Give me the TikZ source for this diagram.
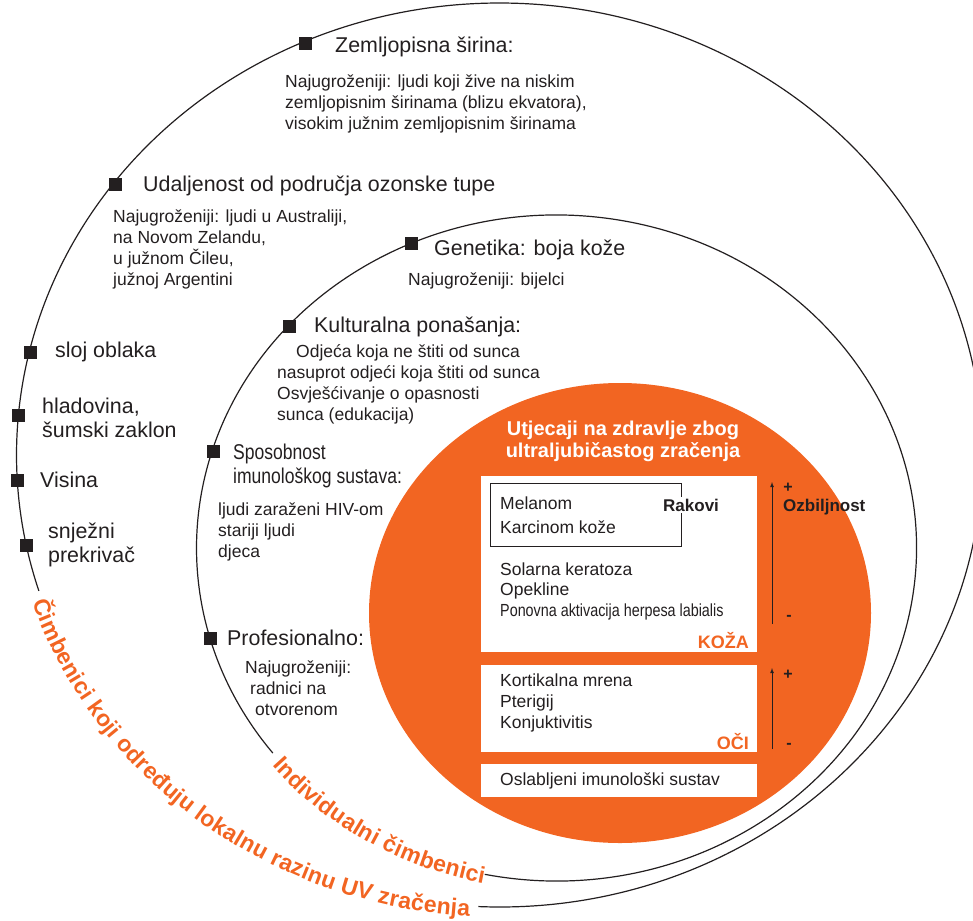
\documentclass[tikz,border=0pt]{standalone}
\usepackage{fontspec}
\setmainfont{Liberation Sans}
\newfontfamily\narrowfont[FakeStretch=0.82]{Liberation Sans}
\usetikzlibrary{ arrows,
                 decorations.text, % For the labels bent along the rings
               }
\definecolor{uvorange}{RGB}{242,101,34}
\definecolor{ink}{RGB}{35,31,32}
\tikzstyle{marker} = [rectangle, fill=ink, minimum size=13pt, inner sep=0pt]
\tikzstyle{heading} = [anchor=west, align=left, inner sep=0pt, text=ink, font=\fontsize{21.4}{24}\selectfont]
\tikzstyle{note} = [anchor=west, align=left, inner sep=0pt, text=ink, font=\fontsize{17.5}{21}\selectfont]
\tikzstyle{panel} = [rectangle, fill=white, anchor=north west, inner sep=0pt]
\tikzstyle{ring} = [draw=ink, line width=1.2pt]
\tikzstyle{severity} = [-latex, draw=ink, line width=0.8pt]
\tikzstyle{sign} = [inner sep=0pt, text=ink, font=\bfseries\fontsize{16}{16}\selectfont]
\tikzstyle{organ} = [anchor=east, inner sep=0pt, text=uvorange, font=\bfseries\fontsize{18}{18}\selectfont]

\begin{document}
\begin{tikzpicture}[x=1pt, y=1pt]
  \useasboundingbox (0,0) rectangle (973,-920);
  \coordinate (outer) at (499.5,-455);
  \coordinate (inner) at (556.5,-548);

  % effects on health (the disc goes under everything)
  \fill [uvorange] (620,-613) ellipse [x radius=251pt, y radius=230pt];

  % the two rings, left open where their names run
  \draw [ring] (outer) ++(267.5:483pt and 452pt) arc [start angle=267.5, end angle=557.5, x radius=483pt, y radius=452pt];
  \draw [ring] (inner) ++(258.5:360pt and 333pt) arc [start angle=258.5, end angle=578, x radius=360pt, y radius=333pt];
  \path [decorate, decoration={text along path, text align=left, raise=-10pt,
      text={|\bfseries\fontsize{23}{23}\selectfont\color{uvorange}|Čimbenici koji određuju lokalnu razinu UV zračenja}}]
    (outer) ++(198.5:483pt and 452pt) arc [start angle=198.5, end angle=285, x radius=483pt, y radius=452pt];
  \path [decorate, decoration={text along path, text align=left, raise=-9pt,
      text={|\bfseries\fontsize{23}{23}\selectfont\color{uvorange}|Individualni čimbenici}}]
    (inner) ++(219.5:360pt and 333pt) arc [start angle=219.5, end angle=275, x radius=360pt, y radius=333pt];

  % outer ring
  \node (m1) [marker] at (305,-44) {};
  \node (zemlj) [heading] at (335,-47) {Zemljopisna širina:};
  \node (zemljtxt) [note] at (285,-103.5) {Najugroženiji: ljudi koji žive na niskim\\zemljopisnim širinama (blizu ekvatora),\\visokim južnim zemljopisnim širinama};
  \node (m2) [marker] at (115,-184) {};
  \node (ozon) [heading] at (143,-186) {Udaljenost od područja ozonske tupe};
  \node (ozontxt) [note] at (113,-249) {Najugroženiji: ljudi u Australiji,\\na Novom Zelandu,\\u južnom Čileu,\\južnoj Argentini};
  \node (m3) [marker] at (30,-352) {};
  \node (oblak) [heading] at (55,-352) {sloj oblaka};
  \node (m4) [marker] at (18,-415) {};
  \node (hlad) [heading] at (42,-418) {hladovina,\\šumski zaklon};
  \node (m5) [marker] at (17,-480) {};
  \node (visina) [heading] at (40,-480) {Visina};
  \node (m6) [marker] at (26,-545) {};
  \node (snijeg) [heading] at (48,-545) {snježni\\prekrivač};

  % inner ring
  \node (m7) [marker] at (411,-243) {};
  \node (genet) [heading] at (434,-250) {Genetika: boja kože};
  \node (genettxt) [note] at (408,-281) {Najugroženiji: bijelci};
  \node (m8) [marker] at (289,-326) {};
  \node (kult) [heading] at (314,-327) {Kulturalna ponašanja:};
  \node (kulttxt) [note] at (277,-384.5) {\hspace*{19pt}Odjeća koja ne štiti od sunca\\nasuprot odjeći koja štiti od sunca\\Osvješćivanje o opasnosti\\sunca (edukacija)};
  \node (m9) [marker] at (213,-451) {};
  \node (imun) [heading, font=\narrowfont\fontsize{21.4}{24}\selectfont] at (233,-465.5) {Sposobnost\\imunološkog sustava:};
  \node (imuntxt) [note] at (218,-532) {ljudi zaraženi HIV-om\\stariji ljudi\\djeca};
  \node (m10) [marker] at (210,-638) {};
  \node (prof) [heading] at (227,-638) {Profesionalno:};
  \node (proftxt) [note] at (245,-688.5) {Najugroženiji:\\\hspace*{5pt}radnici na\\\hspace*{10pt}otvorenom};

  \node (effects) [align=center, inner sep=0pt, text=white, font=\bfseries\fontsize{20}{22}\selectfont] at (623,-441) {Utjecaji na zdravlje zbog\\ultraljubičastog zračenja};

  \node (skin) [panel, minimum width=276pt, minimum height=176pt] at (481,-476) {};
  \node (rakframe) [rectangle, draw=ink, line width=1.2pt, anchor=north west, minimum width=191pt, minimum height=63pt] at (490,-483) {};
  \node (rakovi) [anchor=west, fill=white, inner sep=2pt, text=ink, font=\bfseries\fontsize{17}{17}\selectfont] at (661,-505) {Rakovi};
  \node (cancers) [note, font=\fontsize{17.5}{23.5}\selectfont] at (500,-515) {Melanom\\Karcinom kože};
  \node (mild) [note, font=\fontsize{17.5}{20.5}\selectfont] at (500,-581) {Solarna keratoza\\Opekline};
  \node (herpes) [note, font=\narrowfont\fontsize{17.5}{20}\selectfont] at (500,-612) {Ponovna aktivacija herpesa labialis};
  \node (koza) [organ] at (749,-641) {KOŽA};

  \node (eyes) [panel, minimum width=276pt, minimum height=87pt] at (481,-665) {};
  \node (eyetxt) [note] at (500,-703) {Kortikalna mrena\\Pterigij\\Konjuktivitis};
  \node (oci) [organ] at (749,-742) {OČI};

  \node (immune) [panel, minimum width=276pt, minimum height=33pt] at (481,-764) {};
  \node (immunetxt) [note] at (500,-781) {Oslabljeni imunološki sustav};

  % severity scales
  \coordinate (skinlow) at (772,-624);
  \coordinate (skinhigh) at (772,-482);
  \draw [severity] (skinlow) -- (skinhigh);
  \node (skinplus) [sign] at (788,-488) {+};
  \node (ozb) [anchor=west, inner sep=0pt, text=ink, font=\bfseries\fontsize{17}{17}\selectfont] at (783,-507) {Ozbiljnost};
  \node (skinminus) [sign] at (789,-618) {-};
  \coordinate (eyelow) at (772,-749);
  \coordinate (eyehigh) at (772,-668);
  \draw [severity] (eyelow) -- (eyehigh);
  \node (eyeplus) [sign] at (788,-675) {+};
  \node (eyeminus) [sign] at (789,-746) {-};
\end{tikzpicture}
\end{document}
